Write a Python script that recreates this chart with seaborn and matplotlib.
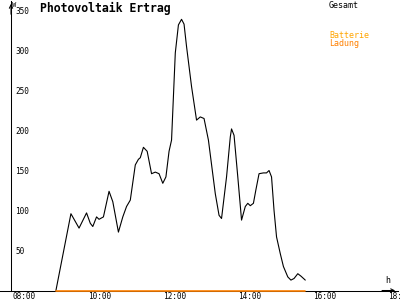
import matplotlib
matplotlib.use("Agg")
import matplotlib.pyplot as plt
import seaborn as sns
import pandas as pd
from matplotlib.transforms import ScaledTranslation

# ---- data ----
gesamt_times = ["09:05", "09:17", "09:29", "09:42", "09:54", "10:00", "10:04", "10:10",
                "10:14", "10:21", "10:30", "10:36", "10:45", "10:52", "10:58", "11:04",
                "11:12", "11:17", "11:20", "11:25", "11:31", "11:38", "11:44", "11:50",
                "11:56", "12:01", "12:06", "12:10", "12:16", "12:21", "12:26", "12:30",
                "12:34", "12:42", "12:50", "12:56", "13:02", "13:09", "13:20", "13:26",
                "13:30", "13:38", "13:44", "13:46", "13:50", "13:56", "14:02", "14:08",
                "14:12", "14:16", "14:21", "14:25", "14:30", "14:37", "14:42", "14:46",
                "14:50", "14:54", "14:58", "15:04", "15:09", "15:16", "15:21", "15:26",
                "15:32", "15:37", "15:44"]
gesamt_values = [0, 48, 96, 78, 97, 84, 80, 92,
                 89, 92, 124, 111, 73, 92, 105, 113,
                 157, 164, 166, 179, 174, 146, 148, 146,
                 134, 142, 174, 188, 297, 332, 339, 333,
                 305, 255, 213, 217, 215, 188, 121, 94,
                 90, 142, 192, 202, 194, 142, 88, 105,
                 109, 106, 109, 126, 146, 147, 147, 150,
                 142, 100, 67, 46, 30, 17, 13, 15,
                 21, 18, 13]
ladung_times = ["09:05", "15:44"]
ladung_values = [0, 0]

y_ticks = [50, 100, 150, 200, 250, 300, 350]
x_ticks = [8, 10, 12, 14, 16, 18]
x_tick_labels = ["08:00", "10:00", "12:00", "14:00", "16:00", "18:00"]

title = "Photovoltaik Ertrag"
legend_gesamt = "Gesamt"
legend_batterie = "Batterie"
legend_ladung = "Ladung"


def to_hours(s):
    h, m = s.split(":")
    return int(h) + int(m) / 60.0


sns.set_style("white")
plt.rcParams['font.family'] = ['DejaVu Sans Mono', 'DejaVu Sans']
plt.rcParams['text.color'] = 'black'

fig = plt.figure(figsize=(4, 3), dpi=100)
ax = fig.add_axes([0, 9.5 / 300, 1, 289.5 / 300])

df_g = pd.DataFrame({"t": [to_hours(s) for s in gesamt_times], "v": gesamt_values})
df_l = pd.DataFrame({"t": [to_hours(s) for s in ladung_times], "v": ladung_values})

sns.lineplot(data=df_g, x="t", y="v", ax=ax, color="black", lw=0.8,
             estimator=None, sort=False, zorder=4)
sns.lineplot(data=df_l, x="t", y="v", ax=ax, color="#FF8000", lw=1.2,
             estimator=None, sort=False, zorder=5, clip_on=False)

x_left, x_right = 7.592, 18.259
y_axis_x = 7.885
x_end = 18.205
y_top = 361.9
ax.set_xlim(x_left, x_right)
ax.set_ylim(0, y_top)
ax.set_xlabel("")
ax.set_ylabel("")

for s in ["top", "right"]:
    ax.spines[s].set_visible(False)
ax.spines["left"].set_position(("data", y_axis_x))
ax.spines["bottom"].set_bounds(x_left, x_end)
for s in ["left", "bottom"]:
    ax.spines[s].set_linewidth(0.75)
    ax.spines[s].set_color("black")

ax.set_yticks(y_ticks)
ax.set_yticklabels([str(v) for v in y_ticks])
ax.set_xticks(x_ticks)
ax.set_xticklabels(x_tick_labels)
ax.tick_params(axis="both", direction="inout", length=5, width=0.75,
               colors="black", labelsize=5.6)
ax.tick_params(axis="y", pad=-5.4)
ax.tick_params(axis="x", pad=-1.5)
for lab in ax.get_yticklabels():
    lab.set_ha("left")
off = ScaledTranslation(-2.5 / 100, 0, fig.dpi_scale_trans)
for lab in ax.get_xticklabels():
    lab.set_ha("left")
    lab.set_transform(lab.get_transform() + off)

ax.annotate("", xy=(y_axis_x, y_top), xytext=(y_axis_x, y_top - 20),
            arrowprops=dict(arrowstyle="->", lw=0.75, color="black", mutation_scale=6),
            annotation_clip=False)
ax.annotate("", xy=(x_end, 0), xytext=(x_end - 0.5, 0),
            arrowprops=dict(arrowstyle="->", lw=0.75, color="black", mutation_scale=6),
            annotation_clip=False)

fig.text(12 / 400, 1 - 2 / 300, "W", fontsize=5, va="top", ha="left", color="black")
fig.text(385 / 400, 1 - 276 / 300, "h", fontsize=6, va="top", ha="left", color="black")
fig.text(40 / 400, 1 - 2 / 300, title, fontsize=8.3, fontweight="bold",
         va="top", ha="left", color="black")
fig.text(329 / 400, 1 - 1 / 300, legend_gesamt, fontsize=6, va="top", ha="left",
         color="black")
fig.text(329 / 400, 1 - 31 / 300, legend_batterie, fontsize=6, va="top", ha="left",
         color="#FFA500")
fig.text(329 / 400, 1 - 39.5 / 300, legend_ladung, fontsize=6, va="top", ha="left",
         color="#FF8000")

fig.savefig("out.png", dpi=100)
